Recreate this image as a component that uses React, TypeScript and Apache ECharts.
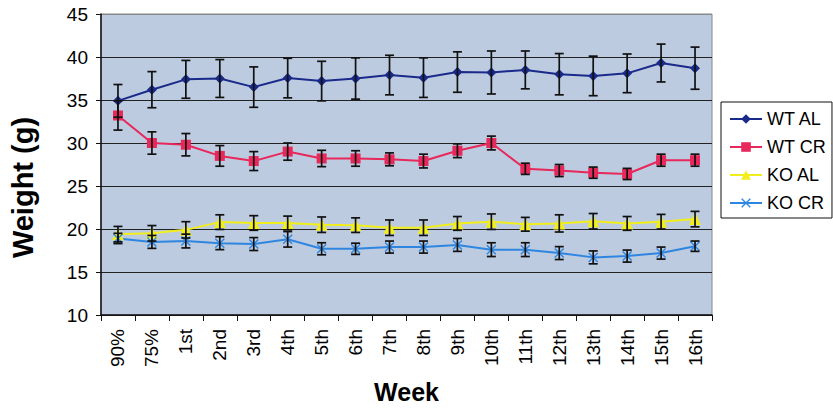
import React, { useEffect, useRef } from "react";
import * as echarts from "echarts";

const categories = ["90%", "75%", "1st", "2nd", "3rd", "4th", "5th", "6th", "7th", "8th", "9th", "10th", "11th", "12th", "13th", "14th", "15th", "16th"];

const wtAL = [34.9, 36.2, 37.4, 37.5, 36.5, 37.55, 37.2, 37.5, 37.9, 37.6, 38.25, 38.2, 38.5, 38.0, 37.8, 38.1, 39.3, 38.7];
const wtALerr = [1.9, 2.1, 2.2, 2.2, 2.35, 2.3, 2.3, 2.4, 2.3, 2.3, 2.35, 2.5, 2.2, 2.4, 2.3, 2.25, 2.2, 2.45];
const wtCR = [33.2, 30.0, 29.8, 28.5, 27.9, 29.0, 28.2, 28.2, 28.1, 27.9, 29.1, 30.0, 27.0, 26.8, 26.55, 26.4, 28.0, 28.0];
const wtCRerr = [1.7, 1.3, 1.3, 1.2, 1.1, 1.0, 0.95, 0.9, 0.75, 0.8, 0.8, 0.8, 0.65, 0.7, 0.65, 0.65, 0.7, 0.7];
const koAL = [19.4, 19.5, 19.9, 20.8, 20.7, 20.7, 20.5, 20.45, 20.15, 20.15, 20.65, 20.85, 20.55, 20.65, 20.9, 20.65, 20.85, 21.15];
const koALerr = [0.9, 0.9, 0.95, 0.85, 0.85, 0.8, 0.9, 0.85, 0.9, 0.9, 0.8, 0.9, 0.8, 1.0, 0.9, 0.8, 0.85, 0.9];
const koCR = [18.9, 18.5, 18.6, 18.35, 18.25, 18.8, 17.7, 17.7, 17.9, 17.9, 18.15, 17.6, 17.6, 17.2, 16.7, 16.85, 17.2, 18.0];
const koCRerr = [0.6, 0.75, 0.8, 0.75, 0.75, 0.9, 0.7, 0.65, 0.7, 0.7, 0.75, 0.8, 0.8, 0.75, 0.75, 0.7, 0.7, 0.6];

const yTicks = { min: 10, max: 45, interval: 5 };

const FONT = "'Liberation Sans', Arial, sans-serif";
const X_SYMBOL = "path://M0,1L1,0L5,4L9,0L10,1L6,5L10,9L9,10L5,6L1,10L0,9L4,5Z";

const seriesDefs = [
  { name: "WT AL", values: wtAL, errs: wtALerr, color: "#1a2a8a", symbol: "diamond", size: 10 },
  { name: "WT CR", values: wtCR, errs: wtCRerr, color: "#e8285a", symbol: "rect", size: 10 },
  { name: "KO AL", values: koAL, errs: koALerr, color: "#f2ee1c", symbol: "triangle", size: 12 },
  { name: "KO CR", values: koCR, errs: koCRerr, color: "#2f86e0", symbol: X_SYMBOL, size: 10 },
];

function errorRender(params: any, api: any) {
  const x = api.value(0);
  const lo = api.coord([x, api.value(1)]);
  const hi = api.coord([x, api.value(2)]);
  const hw = 4.5;
  const style = { stroke: "#111", lineWidth: 1.7 };
  return {
    type: "group",
    children: [
      { type: "line", shape: { x1: lo[0], y1: lo[1], x2: hi[0], y2: hi[1] }, style },
      { type: "line", shape: { x1: lo[0] - hw, y1: lo[1], x2: lo[0] + hw, y2: lo[1] }, style },
      { type: "line", shape: { x1: hi[0] - hw, y1: hi[1], x2: hi[0] + hw, y2: hi[1] }, style },
    ],
  };
}

export default function App() {
  const ref = useRef<HTMLDivElement>(null);
  useEffect(() => {
    if (!ref.current) return;
    const chart = echarts.init(ref.current, null, { renderer: "svg" });
    const series: any[] = [];
    seriesDefs.forEach((d) => {
      series.push({
        type: "custom",
        name: d.name + " error",
        renderItem: errorRender,
        data: d.values.map((v, i) => [i, v - d.errs[i], v + d.errs[i]]),
        encode: { x: 0, y: [1, 2] },
        z: 3,
        silent: true,
      });
    });
    seriesDefs.forEach((d) => {
      series.push({
        type: "line",
        name: d.name,
        data: d.values,
        symbol: d.symbol,
        symbolSize: d.size,
        showSymbol: true,
        lineStyle: { color: d.color, width: 2 },
        itemStyle: { color: d.color },
        z: 2,
      });
    });
    chart.setOption({
      animation: false,
      textStyle: { fontFamily: FONT },
      grid: {
        left: 98,
        top: 14,
        width: 614,
        height: 301,
        show: true,
        backgroundColor: "#bccbe0",
        borderColor: "#888",
        borderWidth: 1,
      },
      legend: {
        data: seriesDefs.map((d) => d.name),
        orient: "vertical",
        left: 721,
        top: 102,
        itemWidth: 32,
        itemHeight: 12,
        itemGap: 10,
        padding: [8, 6, 6, 8],
        borderColor: "#111",
        borderWidth: 1,
        backgroundColor: "#fff",
        textStyle: { fontFamily: FONT, fontSize: 18, color: "#000" },
      },
      xAxis: {
        type: "category",
        data: categories,
        boundaryGap: true,
        axisLine: { lineStyle: { color: "#111", width: 1.5 } },
        axisTick: { show: true, length: 6, lineStyle: { color: "#111" } },
        axisLabel: { rotate: 90, fontSize: 19, color: "#000", margin: 14, fontFamily: FONT },
        name: "Week",
        nameLocation: "middle",
        nameGap: 64,
        nameTextStyle: { fontSize: 25, fontWeight: "bold", color: "#000", fontFamily: FONT },
        splitLine: { show: false },
      },
      yAxis: {
        type: "value",
        min: yTicks.min,
        max: yTicks.max,
        interval: yTicks.interval,
        axisLine: { show: true, lineStyle: { color: "#111", width: 1.5 } },
        axisTick: { show: true, length: 5, lineStyle: { color: "#111" } },
        axisLabel: { fontSize: 19, color: "#000", margin: 13, fontFamily: FONT },
        splitLine: {
          show: true,
          lineStyle: {
            color: ["#222", "#222", "#222", "#222", "#222", "#222", "#222", "#888"],
            width: 1.2,
          },
        },
        name: "Weight (g)",
        nameLocation: "middle",
        nameRotate: 90,
        nameGap: 64,
        nameTextStyle: {
          fontSize: 29,
          fontWeight: "bold",
          color: "#000",
          fontFamily: FONT,
          padding: [0, 46, 0, 0],
        },
      },
      series,
    });
    return () => chart.dispose();
  }, []);
  return <div ref={ref} style={{ position: "absolute", left: 0, top: 0, width: 833, height: 412, background: "#fff" }} />;
}
